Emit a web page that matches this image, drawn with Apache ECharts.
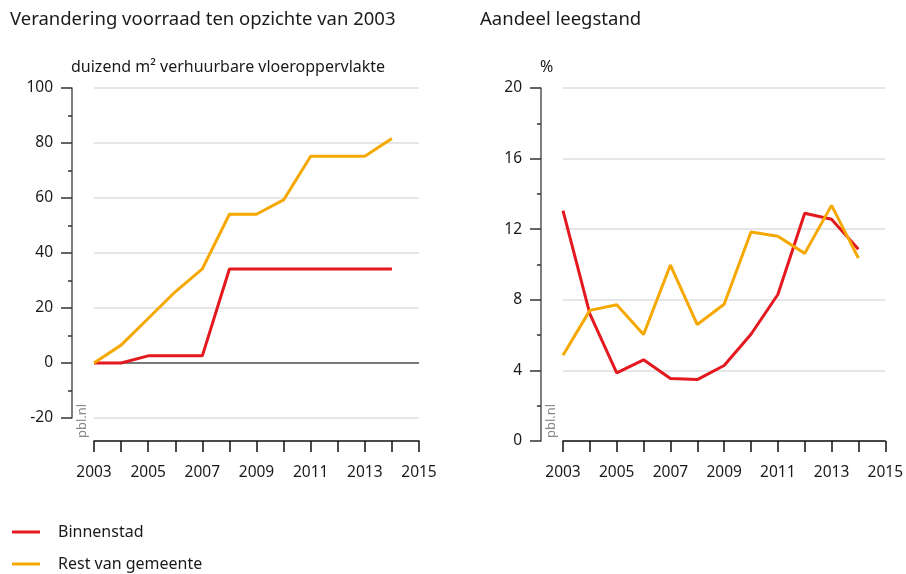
<!DOCTYPE html>
<html>
<head>
<meta charset="utf-8">
<script src="https://cdn.jsdelivr.net/npm/echarts@6/dist/echarts.min.js"></script>
<style>
  html, body { margin: 0; padding: 0; background: #fff; }
  #chart { width: 906px; height: 574px; }
</style>
</head>
<body>
<div id="chart"></div>
<script>
// Years on the horizontal axes
const years = [2003, 2004, 2005, 2006, 2007, 2008, 2009, 2010, 2011, 2012, 2013, 2014];

// Change in stock relative to 2003 (thousand m² lettable floor area)
const stockBinnenstad = [0, 0, 2.6, 2.6, 2.6, 34.2, 34.2, 34.2, 34.2, 34.2, 34.2, 34.2];
const stockRest = [0, 6.5, 16.2, 25.9, 34.2, 54.1, 54.1, 59.3, 75.2, 75.2, 75.2, 81.6];

// Vacancy share (%)
const vacancyBinnenstad = [13.05, 7.2, 3.86, 4.6, 3.54, 3.48, 4.28, 6.05, 8.3, 12.9, 12.56, 10.87];
const vacancyRest = [4.86, 7.4, 7.72, 6.03, 9.97, 6.6, 7.75, 11.84, 11.6, 10.63, 13.35, 10.36];

// Texts
const titleLeft = 'Verandering voorraad ten opzichte van 2003';
const titleRight = 'Aandeel leegstand';
const unitLeft = 'duizend m² verhuurbare vloeroppervlakte';
const unitRight = '%';
const seriesNames = ['Binnenstad', 'Rest van gemeente'];
const sourceLabel = 'pbl.nl';

const RED = '#e3191f';
const ORANGE = '#f5a800';
const FONT = 'Noto Sans';
const TXT = '#1a1a1a';

const pairs = (vals) => years.map((y, i) => [y, vals[i]]);

function xAxisFor(gridIndex, offset) {
  return {
    type: 'value', gridIndex, min: 2003, max: 2015, interval: 1, offset,
    axisLine: { show: true, onZero: false, lineStyle: { color: '#111', width: 1.5 } },
    axisTick: { show: true, length: 11, lineStyle: { color: '#111', width: 1.5 } },
    axisLabel: {
      margin: 24, color: TXT, fontFamily: FONT, fontSize: 15.5,
      formatter: v => (v % 2 === 1 ? String(v) : '')
    },
    splitLine: { show: false }
  };
}

function yAxisFor(gridIndex, min, max, interval) {
  return {
    type: 'value', gridIndex, min, max, interval, offset: 22,
    axisLine: { show: true, lineStyle: { color: '#555', width: 1.5 } },
    axisTick: { show: true, length: 11, lineStyle: { color: '#333', width: 1.5 } },
    minorTick: { show: true, splitNumber: 2, length: 4, lineStyle: { color: '#333', width: 1.5 } },
    axisLabel: { margin: 19, color: TXT, fontFamily: FONT, fontSize: 15.5 },
    splitLine: { show: true, lineStyle: { color: '#dedede', width: 1.5 } }
  };
}

function lineSeries(name, color, data, xi, yi, extra) {
  return Object.assign({
    name, type: 'line', xAxisIndex: xi, yAxisIndex: yi,
    data: pairs(data), symbol: 'none', silent: true,
    lineStyle: { color, width: 3 }, itemStyle: { color }, z: 5
  }, extra || {});
}

function legendFor(name, top) {
  return {
    left: 12, top, padding: 0,
    itemWidth: 28, itemHeight: 3, icon: 'rect',
    data: [name], selectedMode: false,
    textStyle: { fontFamily: FONT, fontSize: 16, color: TXT, padding: [0, 0, 0, 13] }
  };
}

const chart = echarts.init(document.getElementById('chart'));
chart.setOption({
  animation: false,
  backgroundColor: '#fff',
  grid: [
    { left: 94, top: 88, width: 325, height: 330 },
    { left: 563, top: 88, width: 325, height: 353 }
  ],
  xAxis: [xAxisFor(0, 23), xAxisFor(1, 0)],
  yAxis: [yAxisFor(0, -20, 100, 20), yAxisFor(1, 0, 20, 4)],
  legend: [legendFor(seriesNames[0], 524), legendFor(seriesNames[1], 556)],
  series: [
    lineSeries(seriesNames[0], RED, stockBinnenstad, 0, 0, {
      markLine: {
        silent: true, symbol: 'none', label: { show: false },
        lineStyle: { color: '#555', width: 1.5, type: 'solid' },
        data: [{ yAxis: 0 }], z: 3
      }
    }),
    lineSeries(seriesNames[1], ORANGE, stockRest, 0, 0),
    lineSeries(seriesNames[0], RED, vacancyBinnenstad, 1, 1),
    lineSeries(seriesNames[1], ORANGE, vacancyRest, 1, 1)
  ],
  graphic: [
    { type: 'text', left: 10, top: 10, style: { text: titleLeft, fontFamily: FONT, fontSize: 18.5, fill: TXT } },
    { type: 'text', left: 480, top: 10, style: { text: titleRight, fontFamily: FONT, fontSize: 18.5, fill: TXT } },
    { type: 'text', x: 71, y: 67, style: { text: unitLeft, fontFamily: FONT, fontSize: 16, fill: TXT, verticalAlign: 'middle' } },
    { type: 'text', x: 540, y: 67, style: { text: unitRight, fontFamily: FONT, fontSize: 16, fill: TXT, verticalAlign: 'middle' } },
    { type: 'text', x: 82, y: 421, rotation: Math.PI / 2, style: { text: sourceLabel, fontFamily: FONT, fontSize: 13, fill: '#8a8a8a', align: 'center', verticalAlign: 'middle' } },
    { type: 'text', x: 551, y: 421, rotation: Math.PI / 2, style: { text: sourceLabel, fontFamily: FONT, fontSize: 13, fill: '#8a8a8a', align: 'center', verticalAlign: 'middle' } }
  ]
});
</script>
</body>
</html>
